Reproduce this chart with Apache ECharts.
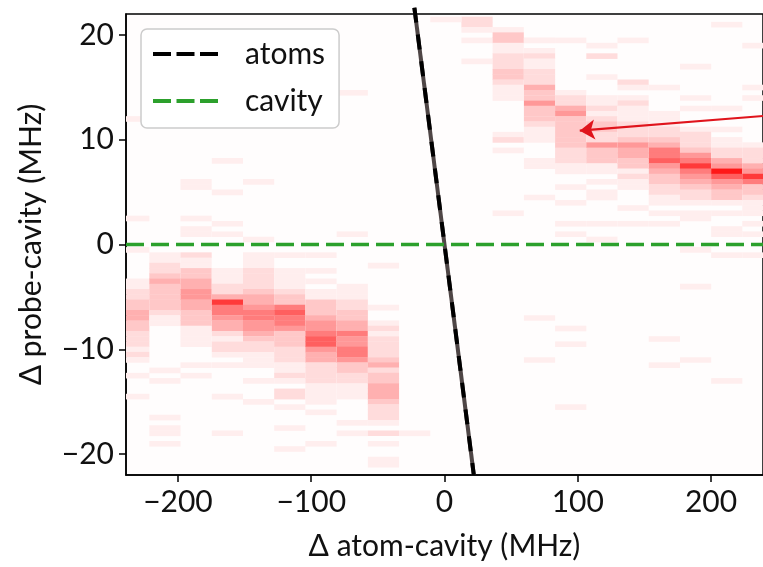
<!DOCTYPE html>
<html><head><meta charset="utf-8">
<script src="https://cdn.jsdelivr.net/npm/echarts@6/dist/echarts.min.js"></script>
<style>html,body{margin:0;padding:0;background:#fff}#chart{width:763px;height:567px}</style>
</head><body><div id="chart"></div>
<script>
// ---- data ----
const xTicks = [-200, -100, 0, 100, 200];
const yTicks = [-20, -10, 0, 10, 20];
// centres of the atom-cavity detuning columns (MHz)
const xCenters = [-233.2, -209.8, -186.4, -162.9, -139.5, -116.1, -92.7, -69.2, -45.8, -22.4, 1.0,
                  24.4, 47.8, 71.3, 94.7, 118.1, 141.5, 165.0, 188.4, 211.8, 235.2];
const CELL_W = 23.42;   // column width (MHz)
const ROW_STEP = 0.5;   // probe detuning step (MHz)
// first (top) probe detuning of each column, values listed downward in ROW_STEP
const colStart = [-0.5, -1, -1, -2.5, -1, -1, -1, -4, -2, 0, 0,
                  21.5, 20.5, 19.5, 19.5, 19, 19.5, 15, 17, 21, 19];
// transmission intensity (0..10) per column
const c00 = [1,0,0,0,0,0,1,1,2,2,3,3,4,4,3,3,2,2,2,1,2,1,0,0,1,0,0,0,1];
const c01 = [1,1,2,2,3,4,3,3,3,3,3,2,1,1,0,0,0,0,0,0,0,0,1,0,1,0,0,0,0,0,0,1,0,1,1,0,1];
const c02 = [2,1,1,3,3,4,4,5,5,4,4,3,3,3,1,1,1,1,0,0,0,1,0,1];
const c03 = [1,1,1,2,2,4,8,6,6,5,4,4,2,1,2,2,1,0,1,0,0,0,0,0,1,0,0,0,0,0,0,1];
const c04 = [1,1,1,2,2,2,2,3,4,4,5,6,6,5,5,4,3,2,2,1,1,1,0,0,1,0,0,0,1];
const c05 = [1,0,0,1,1,1,1,2,3,3,6,7,6,6,5,3,3,3,2,2,2,1,1,2,1,0,2,2,0,1,0,0,0,1,0,0,0,1];
const c06 = [1,0,0,1,0,1,0,1,1,3,3,3,4,5,5,6,7,7,5,4,4,2,2,2,2,1,1,1,1,0,1,0,0,0,0,0,1];
const c07 = [1,1,1,2,2,3,3,4,4,6,5,5,6,6,5,3,3,2,2,1,1,1,0,0,0,0,1,0,1];
const c08 = [1,0,0,0,0,0,0,0,1,0,0,1,2,1,2,2,2,2,3,4,2,3,3,4,4,4,3,2,2,2,1,0,2,0,1,0,0,1,1];
const c09 = [];
const c10 = [];
const c11 = [2,2,1,0,1,0,0,0,1];
const c12 = [1,3,3,1,1,2,2,2,3,3,2,1,1,1,0,0,0,0,0,0,1,2,0,1,0,0,0,0,0,0,0,0,0,0,0,1];
const c13 = [1,0,1,2,1,1,2,2,2,4,3,3,5,3,3,3,2,1,1,1,0,0,0,1,1,0,0,0,0,0,1];
const c14 = [1,0,0,0,0,0,0,0,0,0,1,2,2,4,5,3,3,3,3,3,3,2,2,2,1,1,0,0,1,0,0,1,0,0,0,1,0,1];
const c15 = [1,0,2,0,0,0,1,0,0,0,1,1,2,1,2,3,3,2,2,5,3,3,3,1,1,0,1,0,1,1,0,0,0,0,1,0,0,1];
const c16 = [1,0,0,0,0,0,0,0,2,1,0,1,2,1,1,1,2,2,2,3,5,4,4,3,3,1,2,1,1,0,0,0,1,0,0,1];
const c17 = [1,0,0,0,0,1,1,1,2,2,3,4,6,6,7,5,4,3,3,2,2,1,1,0,1,0,1];
const c18 = [1,0,0,0,0,0,1,0,1,0,0,0,1,2,2,2,3,5,6,8,6,5,4,3,2,2,1,0,1,1];
const c19 = [1,0,0,0,0,0,0,0,0,0,0,0,0,0,0,0,1,0,0,0,1,0,1,1,2,2,4,5,9,7,5,4,3,3,1,0,1,0,0,1,1];
const c20 = [1,0,0,0,0,0,0,0,1,0,1,0,0,0,0,0,0,0,0,1,2,2,2,4,5,8,6,3,3,2,1,1,1,0,1,0,1];
// isolated faint cells: [column index, probe detuning, intensity]
const faintCells = [[18,-0.5,1],[19,-1,1],[20,-1,1],[18,-4,1],[13,-7,1],[14,-8,1],[14,-9.5,1],[13,-11,1],
  [17,-9,1],[17,-11.5,1],[18,-11,1],[19,-13,1],[14,-15.5,1],[0,12,1],[2,15,1],[7,14.5,1],[3,8,1],[4,6,1],
  [2,6,1],[2,5.5,1],[3,5,1],[0,2.5,1],[2,2.5,1],[2,1.5,1],[2,1,1],[3,2,1],[3,1,1],[4,0.5,1],[7,1,1],
  [9,-18,1],[10,21.5,1]];
// reference lines
const atomsX = [-22.6, 22.0];
const atomsY = [22.6, -22.0];
const cavityX = [-239, 239];
const cavityY = [0, 0];
const arrowFrom = [262, 12.5];
const arrowTo = [101.5, 10.86];

// ---- build ----
const columns = [c00,c01,c02,c03,c04,c05,c06,c07,c08,c09,c10,c11,c12,c13,c14,c15,c16,c17,c18,c19,c20];
const heatData = [];
columns.forEach((vals, i) => vals.forEach((v, j) => {
  if (v > 0) heatData.push([xCenters[i], colStart[i] - ROW_STEP * j, v]);
}));
faintCells.forEach(([i, y, v]) => heatData.push([xCenters[i], y, v]));

const FONT = 'Lato';
const minus = v => (v < 0 ? '\u2212' + Math.abs(v) : String(v));
const DASH_ICON = 'path://M0,0H18V4H0Z M23.5,0H41.5V4H23.5Z M47,0H65V4H47Z';

function renderCell(params, api) {
  const x = api.value(0), y = api.value(1);
  const a = api.coord([x - CELL_W / 2, y + ROW_STEP / 2]);
  const b = api.coord([x + CELL_W / 2, y - ROW_STEP / 2]);
  const cs = params.coordSys;
  const r = echarts.graphic.clipRectByRect(
    {x: a[0], y: a[1], width: b[0] - a[0], height: b[1] - a[1] + 0.4},
    {x: cs.x, y: cs.y, width: cs.width, height: cs.height});
  if (!r) return null;
  return {type: 'rect', shape: r, style: {fill: api.visual('color')}};
}

const chart = echarts.init(document.getElementById('chart'), null, {renderer: 'canvas'});
chart.setOption({
  animation: false,
  textStyle: {fontFamily: FONT},
  grid: {left: 126, right: -7, top: 14, bottom: 92, show: true, borderColor: '#000', borderWidth: 1.5,
         backgroundColor: '#fffdfd'},
  xAxis: {
    type: 'value', min: -239, max: 239,
    name: 'Δ atom-cavity (MHz)', nameLocation: 'middle', nameGap: 56,
    nameTextStyle: {fontSize: 30, color: '#111', fontFamily: FONT},
    axisLine: {show: true, onZero: false, lineStyle: {color: '#000', width: 1.5}},
    axisTick: {show: true, length: 7, lineStyle: {color: '#000', width: 1.5}, customValues: xTicks},
    axisLabel: {fontSize: 30, color: '#111', margin: 12, fontFamily: FONT, customValues: xTicks, formatter: minus},
    splitLine: {show: false}
  },
  yAxis: {
    type: 'value', min: -22, max: 22,
    name: 'Δ probe-cavity (MHz)', nameLocation: 'middle', nameGap: 80,
    nameTextStyle: {fontSize: 30, color: '#111', fontFamily: FONT},
    axisLine: {show: true, onZero: false, lineStyle: {color: '#000', width: 1.5}},
    axisTick: {show: true, length: 7, lineStyle: {color: '#000', width: 1.5}, customValues: yTicks},
    axisLabel: {fontSize: 30, color: '#111', margin: 12, fontFamily: FONT, customValues: yTicks, formatter: minus},
    splitLine: {show: false}
  },
  visualMap: {
    show: false, type: 'continuous', min: 0, max: 10, dimension: 2, seriesIndex: 0,
    inRange: {color: ['#fffdfd','#ffeeee','#ffdcdc','#ffc8c8','#ffb0b0','#ff9898','#ff7c7c','#ff5f5f','#ff3a3a','#ff1818','#ff0000']}
  },
  legend: {
    data: [{name: 'atoms', icon: DASH_ICON}, {name: 'cavity', icon: DASH_ICON}],
    orient: 'vertical', left: 141, top: 29,
    padding: [10, 14, 12, 12], itemWidth: 65, itemHeight: 4, itemGap: 17,
    backgroundColor: '#fff', borderColor: '#cccccc', borderWidth: 1.5, borderRadius: 6,
    itemStyle: {borderWidth: 0},
    textStyle: {fontSize: 30, color: '#111', fontFamily: FONT, padding: [0, 0, 0, 22]},
    selectedMode: false
  },
  series: [
    {type: 'custom', name: 'transmission', renderItem: renderCell, data: heatData,
     encode: {x: 0, y: 1}, z: 1, silent: true},
    {type: 'line', name: 'atoms base', data: atomsX.map((x, i) => [x, atomsY[i]]), symbol: 'none',
     clip: false, itemStyle: {color: '#4f4646'}, lineStyle: {color: '#4f4646', width: 4}, z: 3, silent: true},
    {type: 'line', name: 'atoms', data: atomsX.map((x, i) => [x, atomsY[i]]), symbol: 'none',
     clip: false, itemStyle: {color: '#000'}, lineStyle: {color: '#000', width: 4, type: [15, 12]}, z: 4, silent: true},
    {type: 'line', name: 'cavity', data: cavityX.map((x, i) => [x, cavityY[i]]), symbol: 'none',
     itemStyle: {color: '#2ca02c'}, lineStyle: {color: '#2ca02c', width: 3.5, type: [18, 7]}, z: 3, silent: true},
    {type: 'lines', name: 'arrow', coordinateSystem: 'cartesian2d', clip: false,
     data: [{coords: [arrowFrom, arrowTo]}], symbol: ['none', 'arrow'], symbolSize: 15,
     lineStyle: {color: '#e0141c', width: 2.2, opacity: 1, curveness: 0}, z: 5, silent: true}
  ]
});
</script></body></html>
